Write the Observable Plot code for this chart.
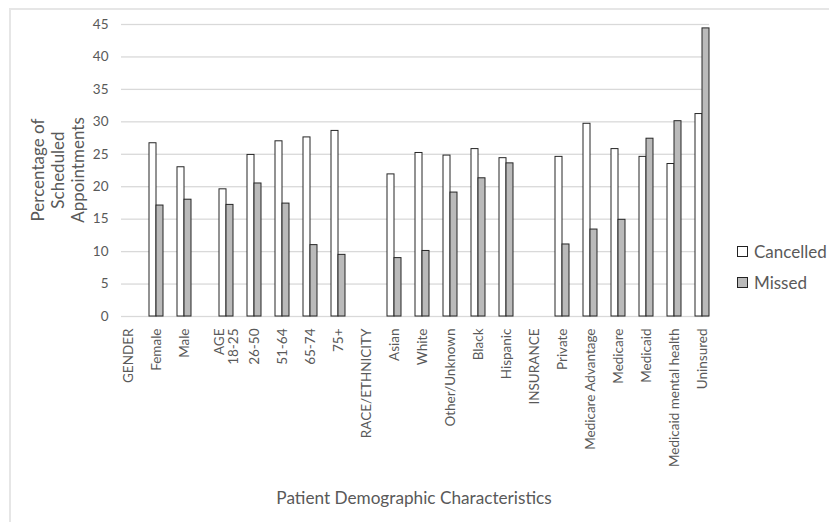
<!DOCTYPE html>
<html>
<head>
<meta charset="utf-8">
<script src="https://cdn.jsdelivr.net/npm/d3@7"></script>
<script src="https://cdn.jsdelivr.net/npm/@observablehq/plot@0.6"></script>
<style>
  html, body { margin: 0; background: #fff; }
  #chart { position: relative; width: 829px; height: 522px; overflow: hidden;
           font-family: Lato, "Open Sans", sans-serif; color: #595959; }
  #chart svg { position: absolute; left: 0; top: 0; }
  .frame { position: absolute; left: 9px; top: 8px; width: 900px; height: 600px;
           border-left: 2px solid #e6e6e6; border-top: 2px solid #e6e6e6; }
  .ytitle { position: absolute; left: 57.8px; top: 170px; transform: translate(-50%, -50%) rotate(-90deg);
            text-align: center; font-size: 17px; line-height: 20px; white-space: nowrap; }
  .xtitle { position: absolute; left: 414px; top: 497px; transform: translate(-50%, -50%);
            font-size: 17.2px; white-space: nowrap; }
  .legend { position: absolute; left: 737px; top: 236px; font-size: 17px; line-height: 31px; }
  .legend .item { display: flex; align-items: center; }
  .legend .sw { width: 9px; height: 9px; border: 1px solid #222; margin-right: 6px; }
</style>
</head>
<body>
<div id="chart">
  <div class="frame"></div>
  <div class="ytitle">Percentage of<br>Scheduled<br>Appointments</div>
  <div class="xtitle">Patient Demographic Characteristics</div>
  <div class="legend" id="legend"></div>
</div>
<script>
// Patient groups along the x axis (headers have no bars)
const categories = [
  "GENDER", "Female", "Male",
  "AGE\n18-25", "26-50", "51-64", "65-74", "75+",
  "RACE/ETHNICITY", "Asian", "White", "Other/Unknown", "Black", "Hispanic",
  "INSURANCE", "Private", "Medicare Advantage", "Medicare", "Medicaid",
  "Medicaid mental health", "Uninsured"
];
// Percentage of scheduled appointments
const cancelled = [
  null, 26.7, 23.0,
  19.6, 24.9, 27.0, 27.6, 28.6,
  null, 21.9, 25.2, 24.8, 25.8, 24.4,
  null, 24.6, 29.7, 25.8, 24.6, 23.5, 31.2
];
const missed = [
  null, 17.1, 18.0,
  17.2, 20.5, 17.4, 11.0, 9.5,
  null, 9.0, 10.1, 19.1, 21.3, 23.6,
  null, 11.1, 13.4, 14.9, 27.4, 30.1, 44.4
];
const series = ["Cancelled", "Missed"];
const colors = ["#ffffff", "#bababa"];
const yTicks = [0, 5, 10, 15, 20, 25, 30, 35, 40, 45];

// Each category sits in its own slot with an empty slot between neighbours;
// the age block is set off by one extra empty slot.
const slots = [];
categories.forEach((c, i) => {
  if (i > 0) slots.push(`gap-${i}`);
  if (c.startsWith("AGE")) slots.push(`gap-${i}b`);
  slots.push(c);
});
const isCategory = new Set(categories);

// One row per slot and series; empty slots carry no value
const valuesBySeries = {Cancelled: cancelled, Missed: missed};
const rows = slots.flatMap(slot => series.map(s => ({
  slot, series: s,
  value: isCategory.has(slot) ? valuesBySeries[s][categories.indexOf(slot)] : null
})));

const chart = Plot.plot({
  width: 829,
  height: 522,
  marginTop: 24,
  marginBottom: 206,
  marginLeft: 116,
  marginRight: 116,
  style: {fontFamily: "Lato, 'Open Sans', sans-serif", fontSize: "13.5px", color: "#595959", background: "transparent"},
  fx: {domain: slots, padding: 0, label: null},
  x: {domain: series, padding: 0, axis: null},
  y: {domain: [0, 45], label: null},
  color: {domain: series, range: colors},
  marks: [
    Plot.gridY(yTicks, {stroke: "#d9d9d9", strokeOpacity: 1, strokeWidth: 1.3}),
    Plot.axisY(yTicks, {tickSize: 0, tickPadding: 13, label: null, facetAnchor: "left"}),
    Plot.axisFx({
      anchor: "bottom", tickSize: 0, tickPadding: 12, tickRotate: -90, label: null,
      tickFormat: s => isCategory.has(s) ? s : ""
    }),
    Plot.barY(rows, {fx: "slot", x: "series", y: "value", fill: "series", stroke: "#262626", strokeWidth: 1})
  ]
});
document.getElementById("chart").insertBefore(chart, document.querySelector(".ytitle"));

// Legend
const legend = document.getElementById("legend");
series.forEach((s, i) => {
  const item = document.createElement("div");
  item.className = "item";
  const sw = document.createElement("span");
  sw.className = "sw";
  sw.style.background = colors[i];
  item.appendChild(sw);
  item.appendChild(document.createTextNode(s));
  legend.appendChild(item);
});
</script>
</body>
</html>
